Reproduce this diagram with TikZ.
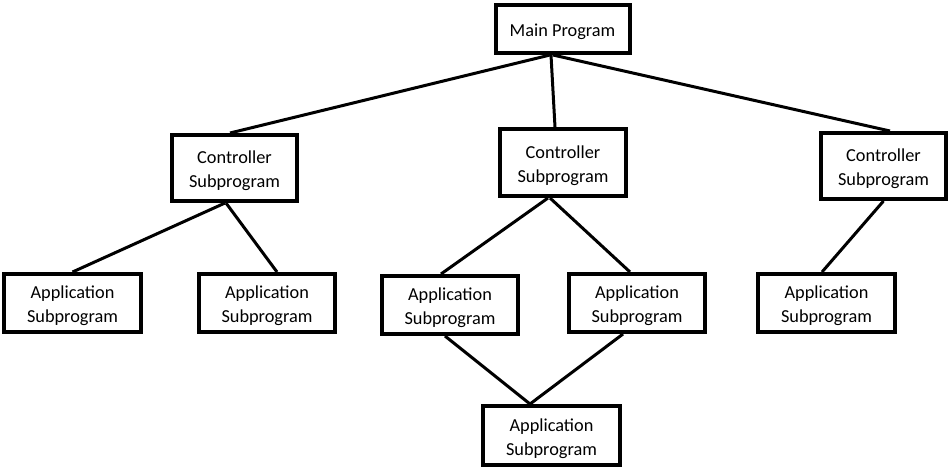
\documentclass[tikz,border=0pt]{standalone}
\usepackage{fontspec}
\setmainfont{Carlito}
\newcommand{\boxtext}[1]{\raisebox{-3pt}[\height][\depth]{\begin{tabular}{@{}c@{}}#1\end{tabular}}}
\begin{document}
\begin{tikzpicture}[x=1pt,y=-1pt,
  box/.style={draw=black,line width=4pt,fill=white,align=center,inner sep=0pt,
    font=\fontsize{18.3}{24}\selectfont},
  link/.style={draw=black,line width=3pt}]
\useasboundingbox[fill=white] (0,0) rectangle (950,475);
% nodes
\node[box,minimum width=134pt,minimum height=48pt] (m) at (562.5,29) {\boxtext{Main Program}};
\node[box,minimum width=125pt,minimum height=66pt] (c1) at (234.5,168) {\boxtext{Controller\\Subprogram}};
\node[box,minimum width=126pt,minimum height=67pt] (c2) at (563,162.5) {\boxtext{Controller\\Subprogram}};
\node[box,minimum width=125pt,minimum height=66pt] (c3) at (883.5,166) {\boxtext{Controller\\Subprogram}};
\node[box,minimum width=137pt,minimum height=58pt] (a1) at (72.5,303) {\boxtext{Application\\Subprogram}};
\node[box,minimum width=136pt,minimum height=58pt] (a2) at (267,303) {\boxtext{Application\\Subprogram}};
\node[box,minimum width=136pt,minimum height=58pt] (a3) at (450,305) {\boxtext{Application\\Subprogram}};
\node[box,minimum width=136pt,minimum height=58pt] (a4) at (637,303) {\boxtext{Application\\Subprogram}};
\node[box,minimum width=137pt,minimum height=58pt] (a5) at (826.5,303) {\boxtext{Application\\Subprogram}};
\node[box,minimum width=137pt,minimum height=59pt] (a6) at (551.5,435.5) {\boxtext{Application\\Subprogram}};
% connectors
\draw[link] ([xshift=-12.5pt]m.south) -- ([xshift=-4.5pt]c1.north);
\draw[link] ([xshift=-11.5pt]m.south) -- ([xshift=-8pt]c2.north);
\draw[link] ([xshift=-9.5pt]m.south) -- ([xshift=6.5pt]c3.north);
\draw[link] ([xshift=-9.5pt]c1.south) -- (a1.north);
\draw[link] ([xshift=-8.5pt]c1.south) -- ([xshift=10pt]a2.north);
\draw[link] ([xshift=-15pt]c2.south) -- ([xshift=-9pt]a3.north);
\draw[link] ([xshift=-13pt]c2.south) -- ([xshift=-7pt]a4.north);
\draw[link] (c3.south) -- ([xshift=-4.5pt]a5.north);
\draw[link] ([xshift=-5pt]a3.south) -- ([xshift=-21.5pt]a6.north);
\draw[link] ([xshift=-14pt]a4.south) -- ([xshift=-21.5pt]a6.north);
\end{tikzpicture}
\end{document}
